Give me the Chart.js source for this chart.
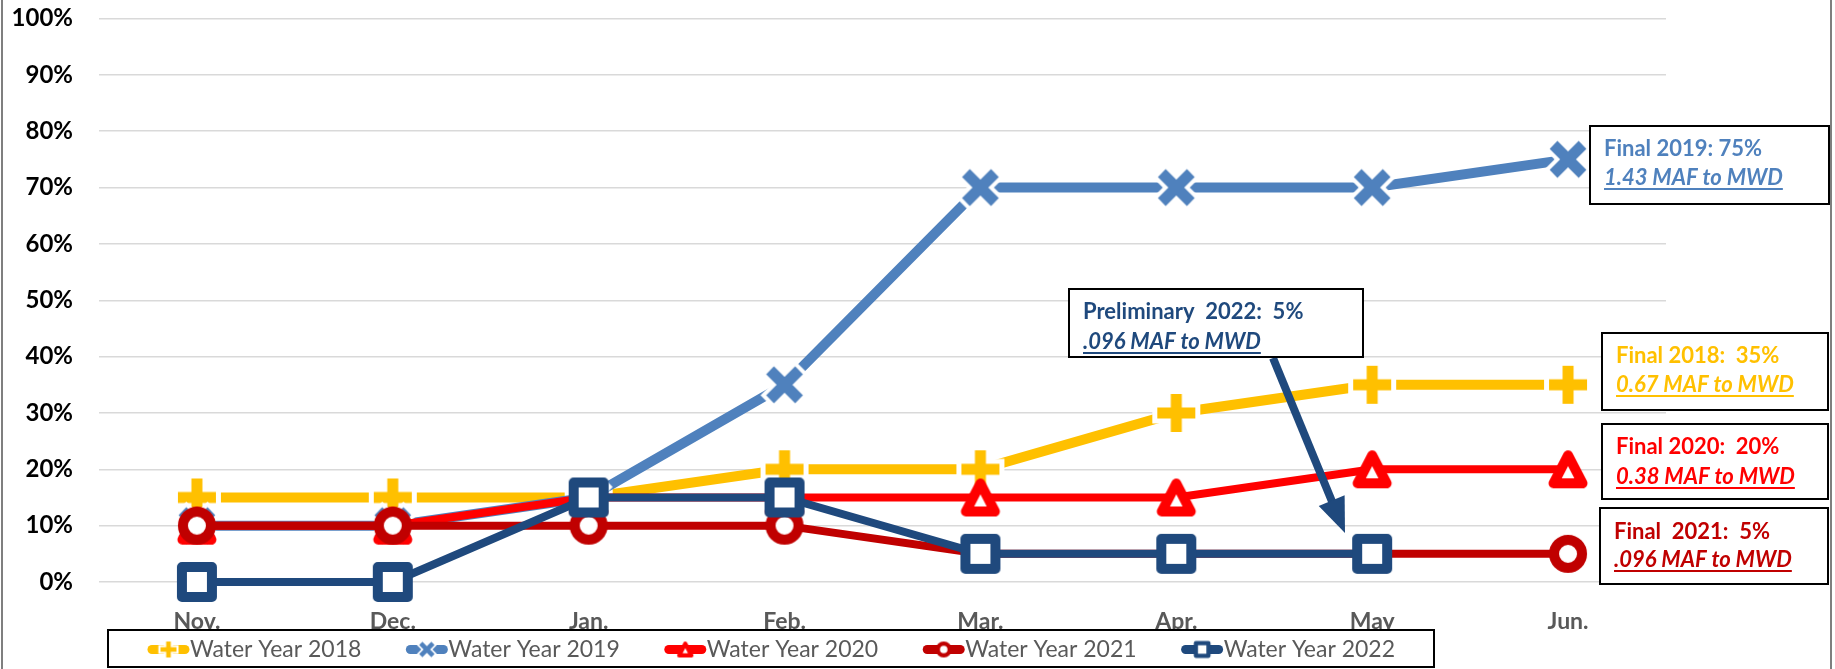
<!DOCTYPE html>
<html>
<head>
<meta charset="utf-8">
<script src="https://cdn.jsdelivr.net/npm/chart.js@4.4.0/dist/chart.umd.min.js"></script>
<style>
  html, body { margin: 0; padding: 0; background: #fff; }
  #wrap { width: 1835px; height: 669px; position: relative; }
</style>
</head>
<body>
<div id="wrap"><canvas id="chart" width="1835" height="669"></canvas></div>
<script>
// --- data ---
const months = ['Nov.', 'Dec.', 'Jan.', 'Feb.', 'Mar.', 'Apr.', 'May', 'Jun.'];
const yTicks = [0, 10, 20, 30, 40, 50, 60, 70, 80, 90, 100];

const wy2018 = [15, 15, 15, 20, 20, 30, 35, 35];
const wy2019 = [10, 10, 15, 35, 70, 70, 70, 75];
const wy2020 = [10, 10, 15, 15, 15, 15, 20, 20];
const wy2021 = [10, 10, 10, 10, 5, 5, 5, 5];
const wy2022 = [0, 0, 15, 15, 5, 5, 5, null];

const seriesNames = ['Water Year 2018', 'Water Year 2019', 'Water Year 2020', 'Water Year 2021', 'Water Year 2022'];

const noteTexts = [
  ['Final 2019: 75%', '1.43 MAF to MWD'],
  ['Preliminary  2022:  5%', '.096 MAF to MWD'],
  ['Final 2018:  35%', '0.67 MAF to MWD'],
  ['Final 2020:  20%', '0.38 MAF to MWD'],
  ['Final  2021:  5%', '.096 MAF to MWD']
];

// --- styling / layout ---
const colors = ['#FFC000', '#4F81BD', '#FF0000', '#C00000', '#1F497D'];
const markerKinds = ['plus', 'x', 'triangle', 'circle', 'square'];
const lineWidths = [10, 10, 8, 8, 8];

// annotation boxes: [x, y, w, h, line1 y, line2 y]
const noteBoxes = [
  [1590, 126, 239, 78, 149, 178],
  [1069, 289, 294, 68, 312, 342],
  [1602, 333, 226, 77, 356, 385],
  [1602, 424, 226, 75, 447, 477],
  [1600, 508, 228, 76, 532, 560]
];
const noteColors = ['#4F81BD', '#1F497D', '#FFC000', '#FF0000', '#C00000'];

function makeMarker(kind, color, k) {
  const c = document.createElement('canvas');
  c.width = c.height = Math.ceil(52 * k);
  const g = c.getContext('2d');
  g.translate(c.width / 2, c.height / 2);
  g.scale(k, k);
  if (kind === 'plus') {
    const L = 38, t = 11, o = 5;
    g.fillStyle = '#fff';
    g.fillRect(-t / 2 - o, -L / 2 - o, t + 2 * o, L + 2 * o);
    g.fillRect(-L / 2 - o, -t / 2 - o, L + 2 * o, t + 2 * o);
    g.fillStyle = color;
    g.fillRect(-t / 2, -L / 2, t, L);
    g.fillRect(-L / 2, -t / 2, L, t);
  } else if (kind === 'x') {
    const L = 41, t = 11, o = 4;
    [['#fff', t + 2 * o, L + 2 * o], [color, t, L]].forEach(([col, w, len]) => {
      const d = len / 2 / Math.SQRT2;
      g.strokeStyle = col;
      g.lineWidth = w;
      g.beginPath();
      g.moveTo(-d, -d); g.lineTo(d, d);
      g.moveTo(d, -d); g.lineTo(-d, d);
      g.stroke();
    });
  } else {
    g.fillStyle = '#fff';
    g.strokeStyle = color;
    g.lineWidth = 10;
    g.lineJoin = 'round';
    g.beginPath();
    if (kind === 'triangle') {
      g.moveTo(0, -14); g.lineTo(14.5, 14); g.lineTo(-14.5, 14); g.closePath();
    } else if (kind === 'circle') {
      g.arc(0, 0, 14, 0, Math.PI * 2);
    } else {
      g.rect(-15, -15, 30, 30);
    }
    g.fill();
    g.stroke();
  }
  return c;
}

const pointMarkers = markerKinds.map((k, i) => makeMarker(k, colors[i], 1));
const legendMarkers = markerKinds.map((k, i) => makeMarker(k, colors[i], 0.42));

const allSeries = [wy2018, wy2019, wy2020, wy2021, wy2022];
const datasets = allSeries.map((vals, i) => ({
  label: seriesNames[i],
  data: vals,
  borderColor: colors[i],
  backgroundColor: colors[i],
  borderWidth: lineWidths[i],
  pointStyle: pointMarkers[i],
  pointRadius: 19,
  pointHoverRadius: 19,
  tension: 0,
  clip: false,
  order: 5 - i
}));

const extras = {
  id: 'extras',
  afterDraw(chart) {
    const ctx = chart.ctx;
    ctx.save();

    // outer frame edges
    ctx.strokeStyle = '#7F7F7F';
    ctx.lineWidth = 2;
    ctx.beginPath();
    ctx.moveTo(2, 0); ctx.lineTo(2, 669);
    ctx.moveTo(1831, 0); ctx.lineTo(1831, 669);
    ctx.stroke();

    // legend
    const box = [108, 630, 1326, 37];
    ctx.fillStyle = '#fff';
    ctx.fillRect(box[0], box[1], box[2], box[3]);
    ctx.strokeStyle = '#000';
    ctx.lineWidth = 2;
    ctx.strokeRect(box[0], box[1], box[2], box[3]);
    ctx.font = '23px Lato';
    const sampleW = 43, gap = 44;
    const widths = seriesNames.map(n => ctx.measureText(n).width);
    const total = widths.reduce((a, b) => a + b, 0) + sampleW * 5 + gap * 4;
    let x = box[0] + (box[2] - total) / 2;
    const cy = box[1] + box[3] / 2 + 1;
    seriesNames.forEach((name, i) => {
      ctx.strokeStyle = colors[i];
      ctx.lineWidth = 9;
      ctx.lineCap = 'round';
      ctx.beginPath();
      ctx.moveTo(x + 5, cy); ctx.lineTo(x + sampleW - 5, cy);
      ctx.stroke();
      const m = legendMarkers[i];
      ctx.drawImage(m, x + sampleW / 2 - m.width / 2, cy - m.height / 2);
      ctx.fillStyle = '#595959';
      ctx.textBaseline = 'middle';
      ctx.textAlign = 'left';
      ctx.fillText(name, x + sampleW, cy);
      x += sampleW + widths[i] + gap;
    });

    // arrow from the preliminary box down to May
    const tip = [1345, 533], tail = [1273, 358];
    const dx = tip[0] - tail[0], dy = tip[1] - tail[1];
    const len = Math.hypot(dx, dy), ux = dx / len, uy = dy / len;
    const headL = 35, headW = 14;
    const bx = tip[0] - ux * headL, by = tip[1] - uy * headL;
    ctx.strokeStyle = '#1F497D';
    ctx.fillStyle = '#1F497D';
    ctx.lineWidth = 8;
    ctx.lineCap = 'butt';
    ctx.beginPath();
    ctx.moveTo(tail[0], tail[1]); ctx.lineTo(bx + ux * 2, by + uy * 2);
    ctx.stroke();
    ctx.beginPath();
    ctx.moveTo(tip[0], tip[1]);
    ctx.lineTo(bx - uy * headW, by + ux * headW);
    ctx.lineTo(bx + uy * headW, by - ux * headW);
    ctx.closePath();
    ctx.fill();

    // annotation boxes
    noteBoxes.forEach(([bx0, by0, bw, bh, y1, y2], i) => {
      ctx.fillStyle = '#fff';
      ctx.fillRect(bx0, by0, bw, bh);
      ctx.strokeStyle = '#000';
      ctx.lineWidth = 2;
      ctx.strokeRect(bx0, by0, bw, bh);
      const tx = bx0 + 14;
      ctx.fillStyle = noteColors[i];
      ctx.textAlign = 'left';
      ctx.textBaseline = 'middle';
      ctx.font = 'bold 22px Lato';
      ctx.fillText(noteTexts[i][0], tx, y1);
      ctx.font = 'italic bold 22px Lato';
      ctx.fillText(noteTexts[i][1], tx, y2);
      const w = ctx.measureText(noteTexts[i][1]).width;
      ctx.fillRect(tx, y2 + 10, w, 2);
    });

    ctx.restore();
  }
};

new Chart(document.getElementById('chart'), {
  type: 'line',
  data: { labels: months, datasets },
  options: {
    responsive: false,
    animation: false,
    devicePixelRatio: 1,
    layout: { autoPadding: false, padding: { left: 0, right: 169, top: 18.5, bottom: 0 } },
    plugins: {
      legend: { display: false },
      tooltip: { enabled: false }
    },
    scales: {
      x: {
        offset: true,
        grid: { display: false },
        border: { display: false },
        ticks: {
          color: '#595959',
          padding: 18,
          font: { family: 'Lato', weight: 'bold', size: 23 }
        },
        afterFit: s => { s.height = 87; }
      },
      y: {
        min: 0,
        max: 100,
        border: { display: false },
        grid: { color: '#D9D9D9', lineWidth: 1.5, drawTicks: false },
        ticks: {
          color: '#000',
          padding: 26,
          font: { family: 'Lato', weight: 'bold', size: 24 },
          callback: v => v + '%'
        },
        afterBuildTicks: s => { s.ticks = yTicks.map(v => ({ value: v })); },
        afterFit: s => { s.width = 99; s.paddingTop = 0; s.paddingBottom = 0; }
      }
    }
  },
  plugins: [extras]
});
</script>
</body>
</html>
